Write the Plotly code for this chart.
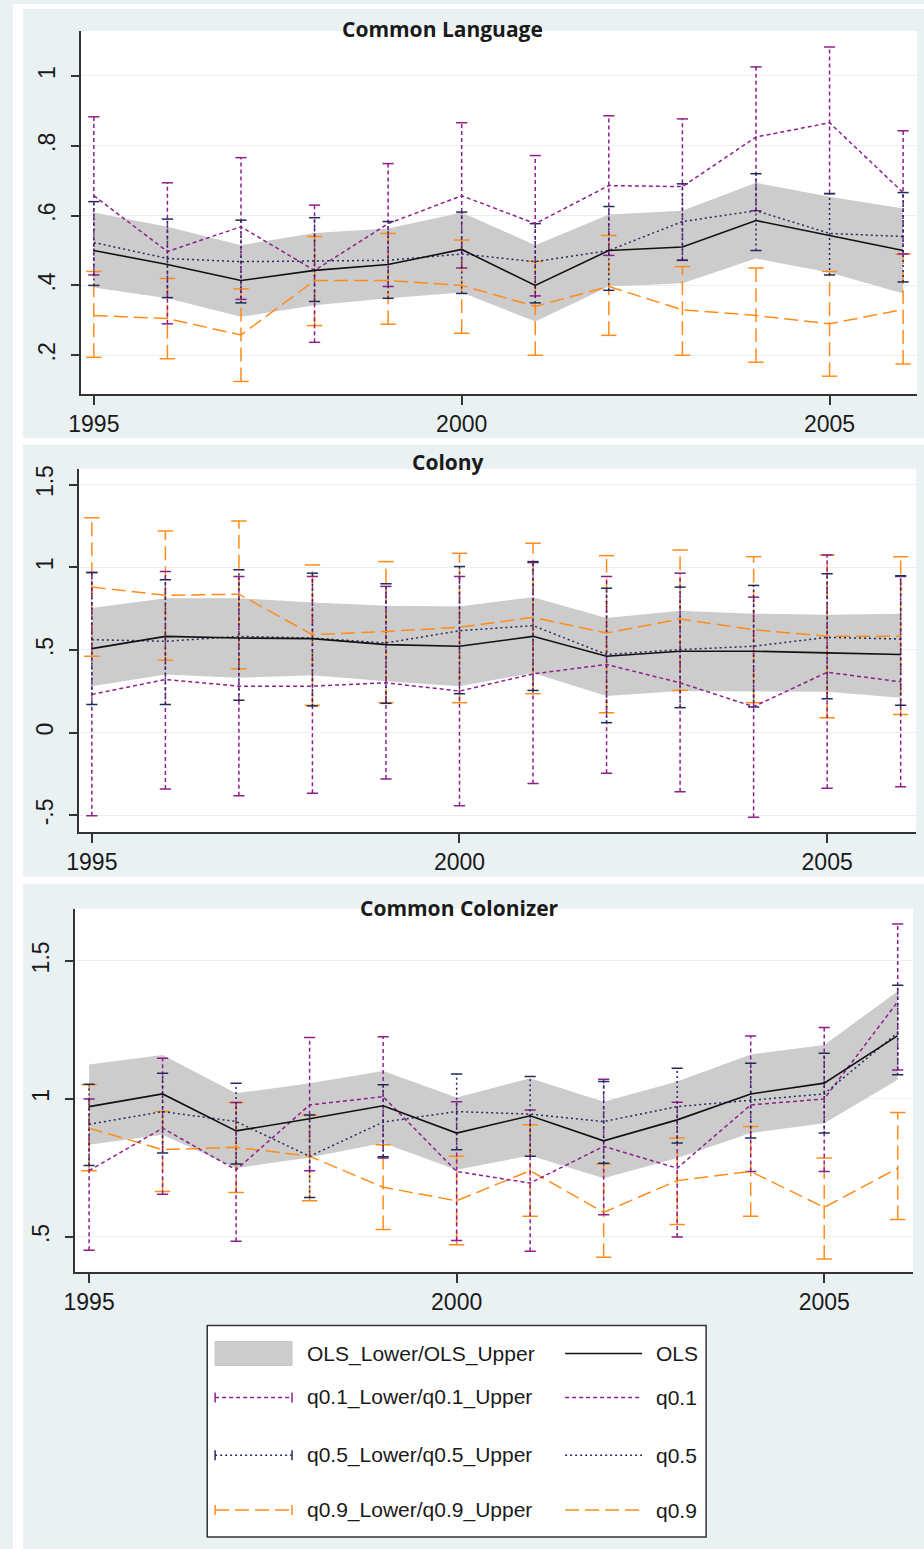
import plotly.graph_objects as go

W, H = 924, 1549

years = list(range(1995, 2007))

# ---------------- Common Language ----------------
cl_ols = [0.50, 0.46, 0.414, 0.443, 0.46, 0.503, 0.40, 0.50, 0.51, 0.586, 0.543, 0.50]
cl_ols_lo = [0.394, 0.363, 0.31, 0.343, 0.363, 0.38, 0.297, 0.397, 0.406, 0.477, 0.437, 0.377]
cl_ols_hi = [0.609, 0.568, 0.515, 0.55, 0.563, 0.609, 0.515, 0.603, 0.614, 0.694, 0.654, 0.62]
cl_q1 = [0.657, 0.497, 0.568, 0.443, 0.577, 0.657, 0.577, 0.686, 0.683, 0.825, 0.866, 0.666]
cl_q1_lo = [0.43, 0.29, 0.36, 0.237, 0.397, 0.45, 0.37, 0.486, 0.472, 0.614, 0.663, 0.49]
cl_q1_hi = [0.883, 0.694, 0.766, 0.63, 0.749, 0.866, 0.772, 0.886, 0.877, 1.026, 1.083, 0.843]
cl_q5 = [0.523, 0.477, 0.468, 0.47, 0.472, 0.49, 0.468, 0.50, 0.583, 0.614, 0.549, 0.54]
cl_q5_lo = [0.40, 0.365, 0.35, 0.354, 0.363, 0.377, 0.35, 0.386, 0.472, 0.50, 0.43, 0.41]
cl_q5_hi = [0.64, 0.59, 0.587, 0.594, 0.583, 0.61, 0.577, 0.626, 0.691, 0.72, 0.663, 0.666]
cl_q9 = [0.314, 0.305, 0.258, 0.414, 0.414, 0.40, 0.34, 0.397, 0.33, 0.314, 0.29, 0.331]
cl_q9_lo = [0.194, 0.19, 0.125, 0.285, 0.289, 0.263, 0.2, 0.257, 0.2, 0.18, 0.14, 0.175]
cl_q9_hi = [0.44, 0.42, 0.39, 0.54, 0.549, 0.53, 0.469, 0.543, 0.454, 0.45, 0.44, 0.49]

# ---------------- Colony ----------------
co_ols = [0.508, 0.582, 0.572, 0.568, 0.532, 0.522, 0.582, 0.462, 0.492, 0.492, 0.482, 0.472]
co_ols_lo = [0.281, 0.351, 0.331, 0.347, 0.311, 0.281, 0.361, 0.221, 0.251, 0.251, 0.247, 0.211]
co_ols_hi = [0.753, 0.813, 0.813, 0.787, 0.767, 0.763, 0.819, 0.693, 0.737, 0.719, 0.713, 0.719]
co_q1 = [0.231, 0.321, 0.281, 0.281, 0.301, 0.251, 0.355, 0.412, 0.301, 0.157, 0.365, 0.307]
co_q1_lo = [-0.502, -0.341, -0.382, -0.367, -0.281, -0.442, -0.307, -0.245, -0.357, -0.512, -0.337, -0.327]
co_q1_hi = [0.968, 0.974, 0.944, 0.944, 0.884, 0.944, 1.028, 0.944, 0.964, 0.819, 1.074, 0.944]
co_q5 = [0.562, 0.552, 0.582, 0.572, 0.542, 0.616, 0.647, 0.472, 0.502, 0.522, 0.576, 0.566]
co_q5_lo = [0.17, 0.17, 0.195, 0.161, 0.177, 0.235, 0.255, 0.06, 0.151, 0.155, 0.205, 0.165]
co_q5_hi = [0.968, 0.924, 0.984, 0.964, 0.90, 1.004, 1.034, 0.873, 0.88, 0.89, 0.96, 0.948]
co_q9 = [0.88, 0.83, 0.837, 0.592, 0.612, 0.637, 0.697, 0.602, 0.687, 0.622, 0.582, 0.582]
co_q9_lo = [0.462, 0.438, 0.386, 0.165, 0.181, 0.181, 0.235, 0.12, 0.255, 0.181, 0.09, 0.11]
co_q9_hi = [1.299, 1.219, 1.279, 1.014, 1.034, 1.084, 1.145, 1.07, 1.104, 1.064, 1.074, 1.064]

# ---------------- Common Colonizer ----------------
cc_ols = [0.972, 1.018, 0.884, 0.928, 0.975, 0.876, 0.939, 0.848, 0.924, 1.018, 1.057, 1.229]
cc_ols_lo = [0.834, 0.87, 0.749, 0.788, 0.84, 0.743, 0.795, 0.713, 0.786, 0.876, 0.912, 1.069]
cc_ols_hi = [1.125, 1.159, 1.02, 1.057, 1.101, 1.005, 1.075, 0.99, 1.063, 1.161, 1.195, 1.39]
cc_q1 = [0.74, 0.894, 0.743, 0.978, 1.008, 0.737, 0.695, 0.828, 0.749, 0.978, 1.0, 1.352]
cc_q1_lo = [0.452, 0.655, 0.484, 0.74, 0.786, 0.487, 0.448, 0.58, 0.5, 0.737, 0.737, 1.105]
cc_q1_hi = [1.0, 1.147, 0.987, 1.222, 1.225, 0.99, 0.96, 1.071, 0.988, 1.228, 1.259, 1.633]
cc_q5 = [0.908, 0.954, 0.918, 0.792, 0.916, 0.954, 0.945, 0.918, 0.972, 0.996, 1.018, 1.24]
cc_q5_lo = [0.759, 0.804, 0.764, 0.643, 0.79, 0.816, 0.792, 0.767, 0.84, 0.858, 0.876, 1.087]
cc_q5_hi = [1.053, 1.093, 1.057, 0.942, 1.051, 1.09, 1.081, 1.063, 1.111, 1.129, 1.165, 1.412]
cc_q9 = [0.894, 0.816, 0.825, 0.792, 0.68, 0.631, 0.74, 0.589, 0.704, 0.737, 0.607, 0.749]
cc_q9_lo = [0.74, 0.665, 0.661, 0.631, 0.527, 0.472, 0.575, 0.426, 0.545, 0.575, 0.42, 0.563]
cc_q9_hi = [1.051, 0.954, 0.987, 0.942, 0.834, 0.792, 0.906, 0.764, 0.858, 0.9, 0.786, 0.951]

titles = ["Common Language", "Colony", "Common Colonizer"]
x_tickvals = [1995, 2000, 2005]
y_ticks = [
    ([0.2, 0.4, 0.6, 0.8, 1.0], [".2", ".4", ".6", ".8", "1"]),
    ([-0.5, 0, 0.5, 1.0, 1.5], ["-.5", "0", ".5", "1", "1.5"]),
    ([0.5, 1.0, 1.5], [".5", "1", "1.5"]),
]
y_ranges = [[0.089, 1.129], [-0.6, 1.595], [0.374, 1.689]]
x_ranges = [[1994.826, 2006.19], [1994.826, 2006.21], [1994.81, 2006.21]]
# plot-area pixel boxes (left, right, top, bottom)
boxes = [(69, 917, 27, 391), (67, 916, 466, 830), (63, 913, 907, 1271)]
title_pos = [(436, 25), (441, 459), (453, 906)]

panels = [
    (cl_ols, cl_ols_lo, cl_ols_hi, cl_q1, cl_q1_lo, cl_q1_hi, cl_q5, cl_q5_lo, cl_q5_hi, cl_q9, cl_q9_lo, cl_q9_hi),
    (co_ols, co_ols_lo, co_ols_hi, co_q1, co_q1_lo, co_q1_hi, co_q5, co_q5_lo, co_q5_hi, co_q9, co_q9_lo, co_q9_hi),
    (cc_ols, cc_ols_lo, cc_ols_hi, cc_q1, cc_q1_lo, cc_q1_hi, cc_q5, cc_q5_lo, cc_q5_hi, cc_q9, cc_q9_lo, cc_q9_hi),
]

BG = "#EAF1F3"
BAND = "#CCCCCC"
PURPLE = "#8E1F8C"
NAVY = "#1F2D5C"
ORANGE = "#FF8C1A"
BLACK = "#111111"
TXT = "#1a1a1a"

D1, D5, D9 = "4px,3px", "2px,3px", "14px,6px"

fig = go.Figure()


def stems(xs, lo, hi):
    xx, yy = [], []
    for x, a, b in zip(xs, lo, hi):
        xx += [x, x, None]
        yy += [a, b, None]
    return xx, yy


for i, p in enumerate(panels):
    ols, ols_lo, ols_hi, q1, q1_lo, q1_hi, q5, q5_lo, q5_hi, q9, q9_lo, q9_hi = p
    xa = "x" if i == 0 else f"x{i+1}"
    ya = "y" if i == 0 else f"y{i+1}"
    kw = dict(xaxis=xa, yaxis=ya, showlegend=False, hoverinfo="skip")
    # OLS confidence band
    fig.add_trace(go.Scatter(x=years, y=ols_hi, mode="lines", line=dict(width=0, color=BAND), **kw))
    fig.add_trace(go.Scatter(x=years, y=ols_lo, mode="lines", line=dict(width=0, color=BAND),
                             fill="tonexty", fillcolor=BAND, **kw))
    # quantile CI stems and caps
    for lo, hi, col, dash, csize in [(q9_lo, q9_hi, ORANGE, D9, 11),
                                     (q1_lo, q1_hi, PURPLE, D1, 8),
                                     (q5_lo, q5_hi, NAVY, D5, 8)]:
        sx, sy = stems(years, lo, hi)
        fig.add_trace(go.Scatter(x=sx, y=sy, mode="lines", line=dict(color=col, width=1.5, dash=dash), **kw))
        fig.add_trace(go.Scatter(x=years + years, y=lo + hi, mode="markers",
                                 marker=dict(symbol="line-ew", size=csize,
                                             line=dict(color=col, width=1.5)), **kw))
    # quantile lines
    fig.add_trace(go.Scatter(x=years, y=q9, mode="lines", line=dict(color=ORANGE, width=1.5, dash=D9), **kw))
    fig.add_trace(go.Scatter(x=years, y=q1, mode="lines", line=dict(color=PURPLE, width=1.5, dash=D1), **kw))
    fig.add_trace(go.Scatter(x=years, y=q5, mode="lines", line=dict(color=NAVY, width=1.5, dash=D5), **kw))
    fig.add_trace(go.Scatter(x=years, y=ols, mode="lines", line=dict(color=BLACK, width=1.6), **kw))

layout = dict(
    width=W, height=H, autosize=False,
    margin=dict(l=0, r=0, t=0, b=0),
    paper_bgcolor=BG, plot_bgcolor="white",
    font=dict(family="Liberation Sans, Arial, sans-serif", color=TXT),
)

for i in range(3):
    l, r, t, b = boxes[i]
    xk = "xaxis" if i == 0 else f"xaxis{i+1}"
    yk = "yaxis" if i == 0 else f"yaxis{i+1}"
    ya = "y" if i == 0 else f"y{i+1}"
    xa = "x" if i == 0 else f"x{i+1}"
    layout[xk] = dict(domain=[l / W, r / W], range=x_ranges[i], anchor=ya,
                      tickvals=x_tickvals, ticktext=[str(v) for v in x_tickvals],
                      ticks="outside", ticklen=9, tickwidth=1.5, tickcolor="#333",
                      showline=True, linecolor="#333", linewidth=1.8,
                      showgrid=False, zeroline=False,
                      tickfont=dict(size=23, color=TXT))
    layout[yk] = dict(domain=[1 - b / H, 1 - t / H], range=y_ranges[i], anchor=xa,
                      tickvals=y_ticks[i][0], ticktext=y_ticks[i][1],
                      ticks="outside", ticklen=8, tickwidth=1.5, tickcolor="#333",
                      tickangle=-90, ticklabelstandoff=7,
                      showline=True, linecolor="#333", linewidth=1.8,
                      showgrid=True, gridcolor="#E8F0F2", gridwidth=1.2,
                      zeroline=False, tickfont=dict(size=23, color=TXT))

fig.update_layout(**layout)

shapes = []
# white separators around panel backgrounds
for (x0, x1, y0, y1) in [(0, 10, 0, H), (0, W, 0, 5), (0, W, 435, 442), (0, W, 875, 882)]:
    shapes.append(dict(type="rect", xref="paper", yref="paper", layer="below",
                       x0=x0 / W, x1=x1 / W, y0=1 - y1 / H, y1=1 - y0 / H,
                       fillcolor="white", line=dict(width=0)))

annotations = []
for (tx, ty), ttl in zip(title_pos, titles):
    annotations.append(dict(text=f"<b>{ttl}</b>", x=tx / W, y=1 - ty / H, xref="paper", yref="paper",
                            xanchor="center", yanchor="middle", showarrow=False,
                            font=dict(family="Open Sans, sans-serif", size=21, color=TXT)))

# ---------------- legend (drawn) ----------------
def px(x):
    return x / W


def py(y):
    return 1 - y / H


shapes.append(dict(type="rect", xref="paper", yref="paper", x0=px(197), x1=px(703), y0=py(1537), y1=py(1325),
                   fillcolor="white", line=dict(color="#333", width=1.5)))

rows_y = [1353, 1397, 1455, 1510]
c1a, c1b, c1t = 205, 283, 296
c2a, c2b, c2t = 560, 638, 650

# row 1: band + OLS
shapes.append(dict(type="rect", xref="paper", yref="paper", x0=px(c1a), x1=px(c1b),
                   y0=py(rows_y[0] + 12), y1=py(rows_y[0] - 12),
                   fillcolor=BAND, line=dict(color="#C4C4C4", width=1)))
shapes.append(dict(type="line", xref="paper", yref="paper", x0=px(c2a), x1=px(c2b),
                   y0=py(rows_y[0]), y1=py(rows_y[0]), line=dict(color=BLACK, width=1.6)))

for ry, col, dash in [(rows_y[1], PURPLE, D1), (rows_y[2], NAVY, D5), (rows_y[3], ORANGE, D9)]:
    shapes.append(dict(type="line", xref="paper", yref="paper", x0=px(c1a), x1=px(c1b),
                       y0=py(ry), y1=py(ry), line=dict(color=col, width=1.5, dash=dash)))
    for cx in (c1a, c1b):
        shapes.append(dict(type="line", xref="paper", yref="paper", x0=px(cx), x1=px(cx),
                           y0=py(ry + 5), y1=py(ry - 5), line=dict(color=col, width=1.5)))
    shapes.append(dict(type="line", xref="paper", yref="paper", x0=px(c2a), x1=px(c2b),
                       y0=py(ry), y1=py(ry), line=dict(color=col, width=1.5, dash=dash)))

leg_left = ["OLS_Lower/OLS_Upper", "q0.1_Lower/q0.1_Upper", "q0.5_Lower/q0.5_Upper", "q0.9_Lower/q0.9_Upper"]
leg_right = ["OLS", "q0.1", "q0.5", "q0.9"]
for ry, tl, tr in zip(rows_y, leg_left, leg_right):
    annotations.append(dict(text=tl, x=px(c1t), y=py(ry), xref="paper", yref="paper",
                            xanchor="left", yanchor="middle", showarrow=False,
                            font=dict(size=21, color=TXT)))
    annotations.append(dict(text=tr, x=px(c2t), y=py(ry), xref="paper", yref="paper",
                            xanchor="left", yanchor="middle", showarrow=False,
                            font=dict(size=21, color=TXT)))

fig.update_layout(shapes=shapes, annotations=annotations)

post = (
    "document.documentElement.style.margin='0';"
    "document.documentElement.style.overflow='hidden';"
    "document.body.style.margin='0';document.body.style.padding='0';"
    "document.body.style.overflow='hidden';"
    "var d=document.getElementsByClassName('plotly-graph-div')[0];"
    "d.style.position='absolute';d.style.left='0px';d.style.top='0px';"
)
fig.write_html("out.html", config={"displayModeBar": False, "responsive": False}, post_script=post)
